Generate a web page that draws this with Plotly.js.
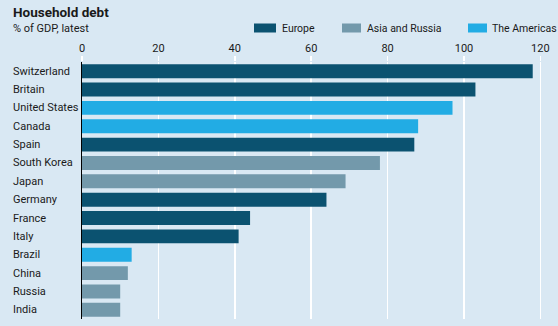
<!DOCTYPE html>
<html><head><meta charset="utf-8">
<script src="https://cdn.plot.ly/plotly-3.0.1.min.js"></script>
<style>html,body{margin:0;padding:0;background:#d9e8f3;}</style>
</head><body><div id="chart" style="width:558px;height:326px;"></div>
<script>
const countries = ["Switzerland","Britain","United States","Canada","Spain","South Korea","Japan","Germany","France","Italy","Brazil","China","Russia","India"];
const regions   = ["Europe","Europe","The Americas","The Americas","Europe","Asia and Russia","Asia and Russia","Europe","Europe","Europe","The Americas","Asia and Russia","Asia and Russia","Asia and Russia"];
const debtPctGdp = [118,103,97,88,87,78,69,64,44,41,13,12,10,10];
const regionOrder = ["Europe","Asia and Russia","The Americas"];
const regionColors = {"Europe":"#0b5270","Asia and Russia":"#7399ab","The Americas":"#22ace4"};
const xTicks = [0,20,40,60,80,100,120];

const font = "Roboto, Open Sans, sans-serif";
const W = 558, H = 326, L = 82, R = 10, T = 62, B = 7;
const pw = W - L - R, ph = H - T - B;
const px = x => (x - L) / pw;          // pixel -> paper x
const py = y => (H - B - y) / ph;      // pixel -> paper y

const traces = regionOrder.map(r => {
  const ys = [], xs = [];
  countries.forEach((c,i) => { if (regions[i]===r){ ys.push(c); xs.push(debtPctGdp[i]); } });
  return {type:"bar", orientation:"h", name:r, x:xs, y:ys,
          marker:{color:regionColors[r], line:{width:0}}, hoverinfo:"none", showlegend:false};
});

const annotations = [
  {text:"<b>Household debt</b>", xref:"paper", yref:"paper", x:px(11), y:py(12), xanchor:"left", yanchor:"middle", showarrow:false, font:{family:font, size:13.5, color:"#1a1a1a"}},
  {text:"% of GDP, latest", xref:"paper", yref:"paper", x:px(11), y:py(28), xanchor:"left", yanchor:"middle", showarrow:false, font:{family:font, size:11, color:"#1a1a1a"}}
];
countries.forEach(c => annotations.push({text:c, xref:"paper", yref:"y", x:px(11), y:c, xanchor:"left", yanchor:"middle", showarrow:false, font:{family:font, size:11, color:"#1a1a1a"}}));

// manual legend
const legendPos = {"Europe":[254,276,280], "Asia and Russia":[342,361,365], "The Americas":[468,487,490]};
const shapes = [];
regionOrder.forEach(r => {
  const [x0,x1,tx] = legendPos[r];
  shapes.push({type:"rect", xref:"paper", yref:"paper", x0:px(x0), x1:px(x1), y0:py(32.5), y1:py(23.5), fillcolor:regionColors[r], line:{width:0}});
  annotations.push({text:r, xref:"paper", yref:"paper", x:px(tx), y:py(28), xanchor:"left", yanchor:"middle", showarrow:false, font:{family:font, size:10.5, color:"#1a1a1a"}});
});

const layout = {
  width:W, height:H,
  margin:{l:L, r:R, t:T, b:B},
  paper_bgcolor:"#d9e8f3", plot_bgcolor:"#d9e8f3",
  barmode:"overlay", bargap:0.24,
  showlegend:false,
  xaxis:{side:"top", range:[0,122], tickvals:xTicks, ticktext:xTicks.map(String), showgrid:true, gridcolor:"#ffffff", gridwidth:1.5, zeroline:false,
         ticks:"outside", ticklen:5, tickcolor:"#ffffff", tickwidth:1.5, tickfont:{family:font, size:11, color:"#1a1a1a"}, fixedrange:true, automargin:false},
  yaxis:{type:"category", categoryorder:"array", categoryarray:countries, autorange:"reversed", showticklabels:false, showgrid:false, zeroline:false,
         showline:true, linecolor:"#000000", linewidth:1, ticks:"", fixedrange:true, automargin:false},
  shapes:shapes,
  annotations:annotations
};
Plotly.newPlot("chart", traces, layout, {displayModeBar:false, staticPlot:true});
</script></body></html>
